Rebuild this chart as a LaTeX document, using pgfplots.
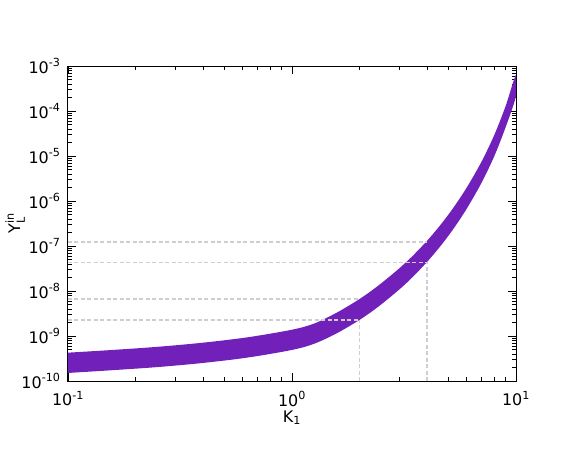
\documentclass[border=0pt]{standalone}
\usepackage{fontspec}
\setmainfont{DejaVu Sans}
\usepackage{amsmath}
\usepackage{pgfplots}
\pgfplotsset{compat=1.18}
\definecolor{band}{RGB}{113,33,185}
\definecolor{guide}{RGB}{206,206,210}
\begin{document}
\begin{tikzpicture}
\begin{axis}[
    name=ax,
    width=448bp, height=315bp, scale only axis,
    xmode=log, ymode=log,
    xmin=0.1, xmax=10, ymin=1e-10, ymax=1e-3,
    xtick={0.1,1,10},
    xticklabels={10\textsuperscript{-1},10\textsuperscript{0},10\textsuperscript{1}},
    minor xtick={0.2,0.3,0.4,0.5,0.6,0.7,0.8,0.9,2,3,4,5,6,7,8,9},
    ytick={1e-10,1e-9,1e-8,1e-7,1e-6,1e-5,1e-4,1e-3},
    yticklabels={10\textsuperscript{-10},10\textsuperscript{-9},10\textsuperscript{-8},10\textsuperscript{-7},
                 10\textsuperscript{-6},10\textsuperscript{-5},10\textsuperscript{-4},10\textsuperscript{-3}},
    minor ytick={2e-10,3e-10,4e-10,5e-10,6e-10,7e-10,8e-10,9e-10,
                 2e-9,3e-9,4e-9,5e-9,6e-9,7e-9,8e-9,9e-9,
                 2e-8,3e-8,4e-8,5e-8,6e-8,7e-8,8e-8,9e-8,
                 2e-7,3e-7,4e-7,5e-7,6e-7,7e-7,8e-7,9e-7,
                 2e-6,3e-6,4e-6,5e-6,6e-6,7e-6,8e-6,9e-6,
                 2e-5,3e-5,4e-5,5e-5,6e-5,7e-5,8e-5,9e-5,
                 2e-4,3e-4,4e-4,5e-4,6e-4,7e-4,8e-4,9e-4},
    xtick pos=both, ytick pos=both,
    tick align=inside,
    major tick length=8bp, minor tick length=4bp,
    tick style={black, line width=0.8bp},
    minor tick style={black, line width=0.6bp},
    axis line style={line width=1bp},
    ticklabel style={font=\fontsize{16}{18}\selectfont},
    x tick label style={yshift=-7bp},
    y tick label style={xshift=-4bp},
    label style={font=\fontsize{16}{18}\selectfont},
    xlabel={K\textsubscript{1}},
    ylabel={Y$^{\text{in}}_{\text{L}}$},
    x label style={at={(axis description cs:0.5,-0.117)}, anchor=center},
    y label style={at={(axis description cs:-0.118,0.5)}, anchor=center},
]

% band: upper edge left to right, then lower edge right to left
\addplot[fill=band, draw=none, smooth, tension=0.5] coordinates {
    (0.1,4.26e-10) (0.158,4.9e-10) (0.251,5.75e-10) (0.398,7.08e-10)
    (0.631,9.33e-10) (1.0,1.38e-9) (1.259,1.9e-9) (1.585,3.31e-9)
    (2.0,6.6e-9) (2.4,1.26e-8) (2.94,2.87e-8) (3.4,5.56e-8)
    (4.0,1.29e-7) (4.58,2.86e-7) (5.2,6.59e-7) (6.0,1.92e-6)
    (7.0,7.31e-6) (8.0,2.93e-5) (9.0,1.31e-4) (10,6.41e-4)
    (10,2.17e-4) (9.0,4.44e-5) (8.0,9.93e-6) (7.0,2.48e-6)
    (6.0,6.52e-7) (5.2,2.23e-7) (4.58,9.68e-8) (4.0,4.38e-8)
    (3.4,1.88e-8) (2.94,9.73e-9) (2.4,4.29e-9) (2.0,2.27e-9)
    (1.585,1.15e-9) (1.259,6.76e-10) (1.0,4.9e-10) (0.631,3.31e-10)
    (0.398,2.51e-10) (0.251,2.04e-10) (0.158,1.74e-10) (0.1,1.51e-10)
} -- cycle;

% guide lines
\addplot[guide, line width=1.5bp, dash pattern=on 4bp off 2.5bp] coordinates {(0.1,1.24e-7) (4,1.24e-7)};
\addplot[guide, line width=1.5bp, dash pattern=on 4bp off 2.5bp] coordinates {(0.1,4.3e-8) (4,4.3e-8)};
\addplot[guide, line width=1.5bp, dash pattern=on 4bp off 2.5bp] coordinates {(0.1,6.64e-9) (2,6.64e-9)};
\addplot[guide, line width=1.5bp, dash pattern=on 4bp off 2.5bp] coordinates {(0.1,2.27e-9) (2,2.27e-9)};
\addplot[guide, line width=1.5bp, dash pattern=on 4bp off 2.5bp] coordinates {(2,1e-10) (2,2.27e-9)};
\addplot[guide, line width=1.5bp, dash pattern=on 4bp off 2.5bp] coordinates {(4,1e-10) (4,4.3e-8)};
\end{axis}
\path ([shift={(-68bp,-68bp)}]ax.south west) rectangle ([shift={(65bp,66bp)}]ax.north east);
\end{tikzpicture}
\end{document}
